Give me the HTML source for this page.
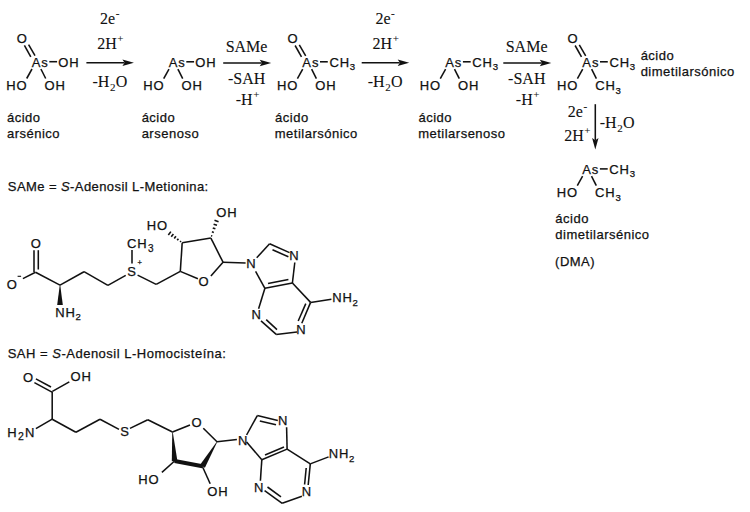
<!DOCTYPE html>
<html><head><meta charset="utf-8"><style>
html,body{margin:0;padding:0;background:#fff;}
body{width:750px;height:512px;overflow:hidden;}
svg{display:block;}
.s{font-family:"Liberation Sans",sans-serif;}
.r{font-family:"Liberation Serif",serif;}
text{fill:#111111;stroke:#111111;stroke-width:0.25px;} .r{stroke-width:0.1px;}
line{stroke:#111111;stroke-linecap:butt;}
polygon{fill:#111111;}
</style></head><body>
<svg width="750" height="512" viewBox="0 0 750 512">
<text class="s" x="31.67" y="66.70" font-size="13" letter-spacing="0.9">As</text>
<text class="s" x="16.68" y="43.10" font-size="13" letter-spacing="0.9">O</text>
<line x1="24.40" y1="45.40" x2="30.80" y2="56.80" stroke-width="1.55"/>
<line x1="28.60" y1="44.70" x2="35.00" y2="55.70" stroke-width="1.55"/>
<line x1="49.30" y1="61.70" x2="57.10" y2="61.70" stroke-width="1.55"/>
<text class="s" x="58.18" y="66.70" font-size="13" letter-spacing="0.9">OH</text>
<line x1="32.00" y1="69.00" x2="26.70" y2="78.50" stroke-width="1.55"/>
<line x1="40.90" y1="69.00" x2="45.70" y2="78.50" stroke-width="1.55"/>
<text class="s" x="6.23" y="90.00" font-size="13" letter-spacing="0.9">HO</text>
<text class="s" x="44.48" y="90.00" font-size="13" letter-spacing="0.9">OH</text>
<text class="s" x="6.95" y="121.70" font-size="13" letter-spacing="0.5">ácido</text>
<text class="s" x="6.95" y="137.80" font-size="13" letter-spacing="0.5">arsénico</text>
<line x1="86.40" y1="62.70" x2="124.40" y2="62.70" stroke-width="1.55"/>
<polygon points="133.90,62.70 122.40,59.50 124.60,62.70 122.40,65.90"/>
<text class="r" x="100.10" y="24.00" font-size="16">2e<tspan font-size="11" dx="0.6" dy="-6.8">-</tspan></text>
<text class="r" x="97.20" y="49.00" font-size="16">2H<tspan font-size="11" dx="0.6" dy="-6.8">+</tspan></text>
<text class="r" x="92.41" y="86.50" font-size="16">-H<tspan font-size="11" dx="0.6" dy="4.5">2</tspan><tspan dx="0.3" dy="-4.5">O</tspan></text>
<text class="s" x="168.67" y="66.80" font-size="13" letter-spacing="0.9">As</text>
<line x1="186.30" y1="61.80" x2="194.10" y2="61.80" stroke-width="1.55"/>
<text class="s" x="195.18" y="66.80" font-size="13" letter-spacing="0.9">OH</text>
<line x1="169.00" y1="69.10" x2="163.70" y2="78.60" stroke-width="1.55"/>
<line x1="177.90" y1="69.10" x2="182.70" y2="78.60" stroke-width="1.55"/>
<text class="s" x="143.23" y="90.10" font-size="13" letter-spacing="0.9">HO</text>
<text class="s" x="181.48" y="90.10" font-size="13" letter-spacing="0.9">OH</text>
<text class="s" x="141.65" y="121.60" font-size="13" letter-spacing="0.5">ácido</text>
<text class="s" x="141.65" y="137.60" font-size="13" letter-spacing="0.5">arsenoso</text>
<line x1="223.20" y1="63.00" x2="261.70" y2="63.00" stroke-width="1.55"/>
<polygon points="271.20,63.00 259.70,59.80 261.90,63.00 259.70,66.20"/>
<text class="r" x="225.63" y="52.00" font-size="16">SAMe</text>
<text class="r" x="228.01" y="84.40" font-size="16">-SAH</text>
<text class="r" x="235.71" y="105.20" font-size="16">-H<tspan font-size="11" dx="0.6" dy="-6.8">+</tspan></text>
<text class="s" x="302.37" y="66.80" font-size="13" letter-spacing="0.9">As</text>
<text class="s" x="287.38" y="43.20" font-size="13" letter-spacing="0.9">O</text>
<line x1="295.10" y1="45.50" x2="301.50" y2="56.90" stroke-width="1.55"/>
<line x1="299.30" y1="44.80" x2="305.70" y2="55.80" stroke-width="1.55"/>
<line x1="320.00" y1="61.80" x2="327.80" y2="61.80" stroke-width="1.55"/>
<text class="s" x="329.44" y="66.80" font-size="13" letter-spacing="0.9">CH<tspan font-size="9.6" dx="-0.2" dy="3.5">3</tspan></text>
<line x1="302.70" y1="69.10" x2="297.40" y2="78.60" stroke-width="1.55"/>
<line x1="311.60" y1="69.10" x2="316.40" y2="78.60" stroke-width="1.55"/>
<text class="s" x="276.93" y="90.10" font-size="13" letter-spacing="0.9">HO</text>
<text class="s" x="315.18" y="90.10" font-size="13" letter-spacing="0.9">OH</text>
<text class="s" x="275.05" y="121.70" font-size="13" letter-spacing="0.5">ácido</text>
<text class="s" x="274.74" y="137.70" font-size="13" letter-spacing="0.5">metilarsónico</text>
<line x1="361.70" y1="62.70" x2="399.70" y2="62.70" stroke-width="1.55"/>
<polygon points="409.20,62.70 397.70,59.50 399.90,62.70 397.70,65.90"/>
<text class="r" x="375.40" y="24.00" font-size="16">2e<tspan font-size="11" dx="0.6" dy="-6.8">-</tspan></text>
<text class="r" x="372.50" y="49.00" font-size="16">2H<tspan font-size="11" dx="0.6" dy="-6.8">+</tspan></text>
<text class="r" x="367.71" y="86.50" font-size="16">-H<tspan font-size="11" dx="0.6" dy="4.5">2</tspan><tspan dx="0.3" dy="-4.5">O</tspan></text>
<text class="s" x="445.27" y="66.80" font-size="13" letter-spacing="0.9">As</text>
<line x1="462.90" y1="61.80" x2="470.70" y2="61.80" stroke-width="1.55"/>
<text class="s" x="472.34" y="66.80" font-size="13" letter-spacing="0.9">CH<tspan font-size="9.6" dx="-0.2" dy="3.5">3</tspan></text>
<line x1="445.60" y1="69.10" x2="440.30" y2="78.60" stroke-width="1.55"/>
<line x1="454.50" y1="69.10" x2="459.30" y2="78.60" stroke-width="1.55"/>
<text class="s" x="419.83" y="90.10" font-size="13" letter-spacing="0.9">HO</text>
<text class="s" x="458.08" y="90.10" font-size="13" letter-spacing="0.9">OH</text>
<text class="s" x="418.45" y="121.70" font-size="13" letter-spacing="0.5">ácido</text>
<text class="s" x="418.14" y="137.70" font-size="13" letter-spacing="0.5">metilarsenoso</text>
<line x1="503.30" y1="63.00" x2="541.80" y2="63.00" stroke-width="1.55"/>
<polygon points="551.30,63.00 539.80,59.80 542.00,63.00 539.80,66.20"/>
<text class="r" x="505.73" y="52.00" font-size="16">SAMe</text>
<text class="r" x="508.11" y="84.40" font-size="16">-SAH</text>
<text class="r" x="515.81" y="105.20" font-size="16">-H<tspan font-size="11" dx="0.6" dy="-6.8">+</tspan></text>
<text class="s" x="582.37" y="66.80" font-size="13" letter-spacing="0.9">As</text>
<text class="s" x="567.38" y="43.20" font-size="13" letter-spacing="0.9">O</text>
<line x1="575.10" y1="45.50" x2="581.50" y2="56.90" stroke-width="1.55"/>
<line x1="579.30" y1="44.80" x2="585.70" y2="55.80" stroke-width="1.55"/>
<line x1="600.00" y1="61.80" x2="607.80" y2="61.80" stroke-width="1.55"/>
<text class="s" x="609.44" y="66.80" font-size="13" letter-spacing="0.9">CH<tspan font-size="9.6" dx="-0.2" dy="3.5">3</tspan></text>
<line x1="582.70" y1="69.10" x2="577.40" y2="78.60" stroke-width="1.55"/>
<line x1="591.60" y1="69.10" x2="596.40" y2="78.60" stroke-width="1.55"/>
<text class="s" x="556.93" y="90.10" font-size="13" letter-spacing="0.9">HO</text>
<text class="s" x="595.14" y="90.10" font-size="13" letter-spacing="0.9">CH<tspan font-size="9.6" dx="-0.2" dy="3.5">3</tspan></text>
<text class="s" x="640.65" y="59.90" font-size="13" letter-spacing="0.5">ácido</text>
<text class="s" x="640.65" y="75.90" font-size="13" letter-spacing="0.5">dimetilarsónico</text>
<line x1="595.30" y1="104.20" x2="595.30" y2="140.00" stroke-width="1.55"/>
<polygon points="595.30,149.50 592.10,138.00 595.30,140.20 598.50,138.00"/>
<text class="r" x="567.70" y="116.50" font-size="16">2e<tspan font-size="11" dx="0.6" dy="-6.8">-</tspan></text>
<text class="r" x="564.20" y="141.00" font-size="16">2H<tspan font-size="11" dx="0.6" dy="-6.8">+</tspan></text>
<text class="r" x="599.71" y="127.60" font-size="16">-H<tspan font-size="11" dx="0.6" dy="4.5">2</tspan><tspan dx="0.3" dy="-4.5">O</tspan></text>
<text class="s" x="582.27" y="173.90" font-size="13" letter-spacing="0.9">As</text>
<line x1="599.90" y1="168.90" x2="607.70" y2="168.90" stroke-width="1.55"/>
<text class="s" x="609.34" y="173.90" font-size="13" letter-spacing="0.9">CH<tspan font-size="9.6" dx="-0.2" dy="3.5">3</tspan></text>
<line x1="582.60" y1="176.20" x2="577.30" y2="185.70" stroke-width="1.55"/>
<line x1="591.50" y1="176.20" x2="596.30" y2="185.70" stroke-width="1.55"/>
<text class="s" x="556.83" y="197.20" font-size="13" letter-spacing="0.9">HO</text>
<text class="s" x="595.04" y="197.20" font-size="13" letter-spacing="0.9">CH<tspan font-size="9.6" dx="-0.2" dy="3.5">3</tspan></text>
<text class="s" x="555.35" y="223.30" font-size="13" letter-spacing="0.5">ácido</text>
<text class="s" x="555.35" y="239.40" font-size="13" letter-spacing="0.5">dimetilarsénico</text>
<text class="s" x="555.09" y="265.80" font-size="13" letter-spacing="0.5">(DMA)</text>
<text class="s" x="7.81" y="191.40" font-size="13" letter-spacing="0.5"><tspan letter-spacing="0.42">SAMe = <tspan font-style="italic">S</tspan>-Adenosil L-Metionina:</tspan></text>
<text class="s" x="30.78" y="247.80" font-size="13" letter-spacing="0.9">O</text>
<line x1="34.00" y1="250.20" x2="34.00" y2="272.00" stroke-width="1.55"/>
<line x1="38.30" y1="250.20" x2="38.30" y2="269.50" stroke-width="1.55"/>
<line x1="35.50" y1="272.30" x2="22.90" y2="278.60" stroke-width="1.55"/>
<text class="s" x="6.68" y="289.40" font-size="13" letter-spacing="0.9">O</text>
<line x1="17.60" y1="276.30" x2="21.10" y2="276.30" stroke-width="1.1"/>
<line x1="35.50" y1="272.30" x2="60.00" y2="285.10" stroke-width="1.55"/>
<line x1="60.00" y1="285.10" x2="84.00" y2="271.70" stroke-width="1.55"/>
<line x1="84.00" y1="271.70" x2="107.90" y2="285.40" stroke-width="1.55"/>
<line x1="107.90" y1="285.40" x2="125.70" y2="275.40" stroke-width="1.55"/>
<polygon points="59.75,285.10 57.20,305.00 62.80,305.00 60.25,285.10"/>
<text class="s" x="55.13" y="316.60" font-size="13" letter-spacing="0.9">NH<tspan font-size="9.6" dx="-0.2" dy="3.6">2</tspan></text>
<text class="s" x="127.31" y="275.80" font-size="13" letter-spacing="0.9">S</text>
<text class="s" x="137.60" y="264.60" font-size="7.5" letter-spacing="0.9">+</text>
<line x1="132.00" y1="250.00" x2="132.00" y2="263.60" stroke-width="1.55"/>
<text class="s" x="127.04" y="248.20" font-size="13" letter-spacing="0.9">CH<tspan font-size="10" dx="0.3" dy="3.8">3</tspan></text>
<line x1="137.60" y1="275.10" x2="156.20" y2="284.40" stroke-width="1.55"/>
<line x1="156.20" y1="284.40" x2="180.30" y2="271.40" stroke-width="1.55"/>
<line x1="180.30" y1="271.40" x2="197.90" y2="278.80" stroke-width="1.55"/>
<text class="s" x="198.48" y="286.20" font-size="13" letter-spacing="0.9">O</text>
<line x1="210.90" y1="276.00" x2="223.00" y2="262.20" stroke-width="1.55"/>
<line x1="223.00" y1="262.20" x2="210.90" y2="238.10" stroke-width="1.55"/>
<line x1="210.90" y1="238.10" x2="182.20" y2="242.80" stroke-width="1.55"/>
<line x1="182.20" y1="242.80" x2="180.30" y2="271.40" stroke-width="1.55"/>
<line x1="223.00" y1="262.20" x2="245.60" y2="263.10" stroke-width="1.55"/>
<line x1="180.18" y1="242.07" x2="180.93" y2="241.06" stroke-width="1.6"/>
<line x1="177.21" y1="240.31" x2="178.42" y2="238.70" stroke-width="1.6"/>
<line x1="174.24" y1="238.55" x2="175.91" y2="236.33" stroke-width="1.6"/>
<line x1="171.27" y1="236.80" x2="173.40" y2="233.97" stroke-width="1.6"/>
<line x1="168.31" y1="235.04" x2="170.89" y2="231.61" stroke-width="1.6"/>
<text class="s" x="146.73" y="229.60" font-size="13" letter-spacing="0.9">HO</text>
<line x1="211.04" y1="235.67" x2="212.23" y2="236.06" stroke-width="1.6"/>
<line x1="211.89" y1="231.83" x2="213.81" y2="232.46" stroke-width="1.6"/>
<line x1="212.75" y1="228.00" x2="215.39" y2="228.86" stroke-width="1.6"/>
<line x1="213.61" y1="224.16" x2="216.97" y2="225.26" stroke-width="1.6"/>
<line x1="214.47" y1="220.32" x2="218.55" y2="221.66" stroke-width="1.6"/>
<text class="s" x="216.18" y="216.60" font-size="13" letter-spacing="0.9">OH</text>
<text class="s" x="246.33" y="268.40" font-size="13" letter-spacing="0.9">N</text>
<line x1="256.70" y1="257.80" x2="269.60" y2="243.80" stroke-width="1.55"/>
<line x1="269.60" y1="243.80" x2="289.50" y2="252.60" stroke-width="1.55"/>
<line x1="272.50" y1="249.80" x2="288.40" y2="256.80" stroke-width="1.55"/>
<text class="s" x="289.33" y="259.60" font-size="13" letter-spacing="0.9">N</text>
<line x1="294.80" y1="262.50" x2="292.40" y2="283.00" stroke-width="1.55"/>
<line x1="292.40" y1="283.00" x2="264.90" y2="288.30" stroke-width="1.55"/>
<line x1="268.00" y1="283.40" x2="288.40" y2="279.40" stroke-width="1.55"/>
<line x1="264.90" y1="288.30" x2="255.60" y2="271.30" stroke-width="1.55"/>
<line x1="264.90" y1="288.30" x2="258.60" y2="308.80" stroke-width="1.55"/>
<text class="s" x="251.43" y="319.20" font-size="13" letter-spacing="0.9">N</text>
<line x1="261.00" y1="320.80" x2="276.20" y2="334.40" stroke-width="1.55"/>
<line x1="266.20" y1="319.60" x2="277.00" y2="329.60" stroke-width="1.55"/>
<line x1="276.20" y1="334.40" x2="297.00" y2="332.00" stroke-width="1.55"/>
<text class="s" x="296.23" y="333.60" font-size="13" letter-spacing="0.9">N</text>
<line x1="301.80" y1="323.20" x2="310.60" y2="302.40" stroke-width="1.55"/>
<line x1="298.20" y1="321.00" x2="305.80" y2="303.60" stroke-width="1.55"/>
<line x1="310.60" y1="302.40" x2="292.40" y2="283.00" stroke-width="1.55"/>
<line x1="310.60" y1="302.40" x2="331.40" y2="299.20" stroke-width="1.55"/>
<text class="s" x="332.23" y="302.40" font-size="13" letter-spacing="0.9">NH<tspan font-size="9.6" dx="-0.2" dy="3.6">2</tspan></text>
<text class="s" x="7.71" y="358.20" font-size="13" letter-spacing="0.5">SAH = <tspan font-style="italic">S</tspan>-Adenosil L-Homocisteína:</text>
<text class="s" x="23.08" y="381.80" font-size="13" letter-spacing="0.9">O</text>
<text class="s" x="70.38" y="381.10" font-size="13" letter-spacing="0.9">OH</text>
<line x1="34.40" y1="382.60" x2="52.00" y2="392.10" stroke-width="1.55"/>
<line x1="35.90" y1="378.90" x2="51.00" y2="387.00" stroke-width="1.55"/>
<line x1="52.40" y1="391.40" x2="69.30" y2="381.80" stroke-width="1.55"/>
<line x1="52.20" y1="391.40" x2="52.20" y2="419.20" stroke-width="1.55"/>
<line x1="52.20" y1="419.20" x2="35.90" y2="428.70" stroke-width="1.55"/>
<line x1="52.20" y1="419.20" x2="75.90" y2="432.30" stroke-width="1.55"/>
<line x1="75.90" y1="432.30" x2="100.00" y2="419.20" stroke-width="1.55"/>
<line x1="100.00" y1="419.20" x2="119.00" y2="429.40" stroke-width="1.55"/>
<text class="s" x="7.33" y="436.70" font-size="13" letter-spacing="0.9">H<tspan font-size="10.5" dx="0.3" dy="3.4">2</tspan><tspan dx="0.3" dy="-3.4">N</tspan></text>
<text class="s" x="120.21" y="436.00" font-size="13" letter-spacing="0.9">S</text>
<line x1="130.00" y1="428.40" x2="147.80" y2="419.70" stroke-width="1.55"/>
<line x1="147.80" y1="419.70" x2="172.50" y2="432.00" stroke-width="1.55"/>
<line x1="172.50" y1="432.00" x2="190.00" y2="425.00" stroke-width="1.55"/>
<text class="s" x="191.48" y="426.70" font-size="13" letter-spacing="0.9">O</text>
<line x1="203.30" y1="428.30" x2="217.00" y2="441.80" stroke-width="1.55"/>
<line x1="217.00" y1="441.80" x2="236.90" y2="439.60" stroke-width="1.55"/>
<polygon points="172.25,432.02 171.81,461.20 177.39,460.80 172.75,431.98"/>
<line x1="174.60" y1="461.00" x2="202.50" y2="466.20" stroke-width="4.0"/>
<polygon points="216.79,441.67 200.09,464.77 204.91,467.63 217.21,441.93"/>
<line x1="174.60" y1="461.00" x2="161.90" y2="472.40" stroke-width="1.55"/>
<text class="s" x="138.23" y="483.80" font-size="13" letter-spacing="0.9">HO</text>
<line x1="202.30" y1="466.20" x2="210.20" y2="483.80" stroke-width="1.55"/>
<text class="s" x="207.28" y="496.10" font-size="13" letter-spacing="0.9">OH</text>
<text class="s" x="238.03" y="444.70" font-size="13" letter-spacing="0.9">N</text>
<line x1="246.60" y1="435.00" x2="257.30" y2="415.60" stroke-width="1.55"/>
<line x1="257.30" y1="415.60" x2="277.80" y2="420.50" stroke-width="1.55"/>
<line x1="259.80" y1="421.00" x2="276.00" y2="424.80" stroke-width="1.55"/>
<text class="s" x="278.03" y="425.20" font-size="13" letter-spacing="0.9">N</text>
<line x1="286.60" y1="427.30" x2="287.10" y2="449.10" stroke-width="1.55"/>
<line x1="287.10" y1="449.10" x2="261.80" y2="459.70" stroke-width="1.55"/>
<line x1="265.00" y1="455.00" x2="284.00" y2="447.00" stroke-width="1.55"/>
<line x1="261.80" y1="459.70" x2="246.60" y2="442.00" stroke-width="1.55"/>
<line x1="287.10" y1="449.10" x2="310.30" y2="463.90" stroke-width="1.55"/>
<line x1="310.30" y1="463.90" x2="328.60" y2="456.90" stroke-width="1.55"/>
<text class="s" x="328.73" y="458.40" font-size="13" letter-spacing="0.9">NH<tspan font-size="9.6" dx="-0.2" dy="3.6">2</tspan></text>
<line x1="261.80" y1="459.70" x2="260.40" y2="480.80" stroke-width="1.55"/>
<text class="s" x="254.03" y="491.80" font-size="13" letter-spacing="0.9">N</text>
<line x1="264.60" y1="490.60" x2="282.20" y2="503.30" stroke-width="1.55"/>
<line x1="267.50" y1="487.00" x2="281.00" y2="496.80" stroke-width="1.55"/>
<line x1="282.20" y1="503.30" x2="301.90" y2="496.30" stroke-width="1.55"/>
<text class="s" x="301.83" y="496.10" font-size="13" letter-spacing="0.9">N</text>
<line x1="310.30" y1="463.90" x2="308.20" y2="485.00" stroke-width="1.55"/>
<line x1="306.20" y1="468.00" x2="304.60" y2="484.50" stroke-width="1.55"/>
</svg>
</body></html>
